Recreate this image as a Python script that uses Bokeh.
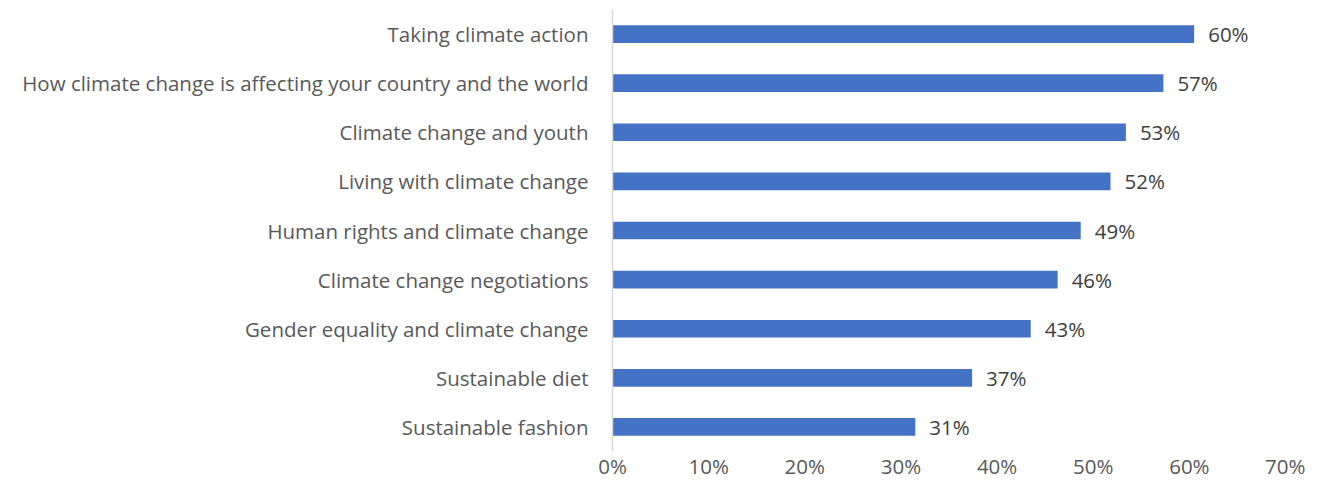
from bokeh.plotting import figure
from bokeh.models import ColumnDataSource, FactorRange, NumeralTickFormatter, FixedTicker
from bokeh.core.properties import value
from bokeh.embed import file_html
from bokeh.resources import INLINE

categories = [
    "Taking climate action",
    "How climate change is affecting your country and the world",
    "Climate change and youth",
    "Living with climate change",
    "Human rights and climate change",
    "Climate change negotiations",
    "Gender equality and climate change",
    "Sustainable diet",
    "Sustainable fashion",
]
values = [0.605, 0.573, 0.534, 0.518, 0.487, 0.463, 0.435, 0.374, 0.315]
labels = ["60%", "57%", "53%", "52%", "49%", "46%", "43%", "37%", "31%"]
x_ticks = [0, 0.1, 0.2, 0.3, 0.4, 0.5, 0.6, 0.7]

FONT = "Open Sans"
SIZE = "20.5px"

src = ColumnDataSource(dict(cat=categories, val=values, lab=labels))

p = figure(
    width=1305, height=482,
    y_range=FactorRange(*list(reversed(categories)), range_padding=0),
    x_range=(0, 0.7),
    output_backend="svg", toolbar_location=None,
    min_border_left=612, min_border_right=20, min_border_top=9, min_border_bottom=24,
)
p.outline_line_color = None
p.background_fill_color = "white"
p.border_fill_color = "white"
p.grid.visible = False

p.hbar(y="cat", right="val", left=0, height=0.36, source=src,
       fill_color="#4472C4", line_color=None)

p.text(x="val", y="cat", text="lab", source=src, x_offset=14,
       text_baseline="middle", text_align="left",
       text_font=value(FONT), text_font_size=SIZE, text_color="#404040")

xa = p.xaxis[0]
xa.ticker = FixedTicker(ticks=x_ticks)
xa.formatter = NumeralTickFormatter(format="0%")
xa.axis_line_color = None
xa.major_tick_line_color = None
xa.minor_tick_line_color = None
xa.major_tick_out = 0
xa.major_tick_in = 0
xa.major_label_standoff = 0
xa.major_label_text_font = FONT
xa.major_label_text_font_size = SIZE
xa.major_label_text_color = "#595959"

ya = p.yaxis[0]
ya.axis_line_color = "#d9d9d9"
ya.axis_line_width = 1.5
ya.major_tick_line_color = None
ya.minor_tick_line_color = None
ya.major_tick_out = 0
ya.major_tick_in = 0
ya.major_label_standoff = 24
ya.major_label_text_font = FONT
ya.major_label_text_font_size = SIZE
ya.major_label_text_color = "#595959"

open("out.html", "w").write(file_html(p, INLINE))
